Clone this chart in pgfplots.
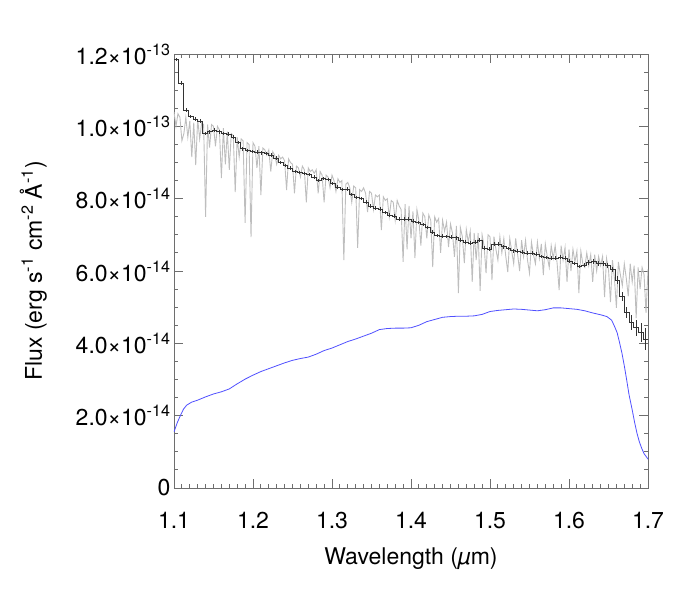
\documentclass[border=0pt]{standalone}
\usepackage{fontspec}
\setmainfont{TeX Gyre Heros}
\usepackage{pgfplots}
\pgfplotsset{compat=1.18}
\usepackage{pgfplotstable}
\definecolor{axgray}{HTML}{6E6E6E}
\definecolor{specgray}{HTML}{BEBEBE}
\definecolor{binblack}{HTML}{333333}
\definecolor{thrblue}{HTML}{5050FF}

% flux in units of 1e-14 erg/s/cm2/A
\pgfplotstableread{
x y
1.1000 10.40
1.1025 10.00
1.1050 10.35
1.1075 10.25
1.1100 9.60
1.1125 9.80
1.1150 10.25
1.1175 9.70
1.1200 10.15
1.1225 9.15
1.1250 10.10
1.1275 8.93
1.1300 10.20
1.1325 9.65
1.1350 10.10
1.1375 10.05
1.1400 7.50
1.1425 10.05
1.1450 9.41
1.1475 10.05
1.1500 10.00
1.1525 9.45
1.1550 10.00
1.1575 9.90
1.1600 8.57
1.1625 9.95
1.1650 8.95
1.1675 9.85
1.1700 8.80
1.1725 9.80
1.1750 9.75
1.1775 8.18
1.1800 9.70
1.1825 9.15
1.1850 9.65
1.1875 9.60
1.1900 7.33
1.1925 9.55
1.1950 9.50
1.1975 6.94
1.2000 9.55
1.2025 9.45
1.2050 8.85
1.2075 9.45
1.2100 8.10
1.2125 9.40
1.2150 9.35
1.2175 9.20
1.2200 9.35
1.2225 8.75
1.2250 9.30
1.2275 9.20
1.2300 8.95
1.2325 9.20
1.2350 9.10
1.2375 9.15
1.2400 9.05
1.2425 8.24
1.2450 9.10
1.2475 9.00
1.2500 8.95
1.2525 8.15
1.2550 8.90
1.2575 8.85
1.2600 8.60
1.2625 8.90
1.2650 8.80
1.2675 7.90
1.2700 8.85
1.2725 8.75
1.2750 8.80
1.2775 8.70
1.2800 8.80
1.2825 8.15
1.2850 8.75
1.2875 8.65
1.2900 7.90
1.2925 8.65
1.2950 8.60
1.2975 8.30
1.3000 8.65
1.3025 8.50
1.3050 8.20
1.3075 8.55
1.3100 8.45
1.3125 8.50
1.3150 6.30
1.3175 8.40
1.3200 8.45
1.3225 8.30
1.3250 7.90
1.3275 8.35
1.3300 8.30
1.3325 6.64
1.3350 8.25
1.3375 8.20
1.3400 8.30
1.3425 8.15
1.3450 7.63
1.3475 8.20
1.3500 8.15
1.3525 7.70
1.3550 8.10
1.3575 8.05
1.3600 8.10
1.3625 7.13
1.3650 8.05
1.3675 7.95
1.3700 8.00
1.3725 7.50
1.3750 7.95
1.3775 7.90
1.3800 7.40
1.3825 7.95
1.3850 7.80
1.3875 7.70
1.3900 6.25
1.3925 7.85
1.3950 6.60
1.3975 7.80
1.4000 6.90
1.4025 7.65
1.4050 6.36
1.4075 7.70
1.4100 7.40
1.4125 6.70
1.4150 7.60
1.4175 7.50
1.4200 6.90
1.4225 7.55
1.4250 7.40
1.4275 6.11
1.4300 7.50
1.4325 7.35
1.4350 7.45
1.4375 6.50
1.4400 7.40
1.4425 7.10
1.4450 7.35
1.4475 6.66
1.4500 7.30
1.4525 7.05
1.4550 6.39
1.4575 7.25
1.4600 5.39
1.4625 7.20
1.4650 6.95
1.4675 6.22
1.4700 7.15
1.4725 6.80
1.4750 7.10
1.4775 5.70
1.4800 7.05
1.4825 6.30
1.4850 7.05
1.4875 5.45
1.4900 7.00
1.4925 6.70
1.4950 5.94
1.4975 7.00
1.5000 6.95
1.5025 5.75
1.5050 6.95
1.5075 6.60
1.5100 6.30
1.5125 6.95
1.5150 6.50
1.5175 6.90
1.5200 6.40
1.5225 5.97
1.5250 6.90
1.5275 6.55
1.5300 6.20
1.5325 6.90
1.5350 6.45
1.5375 6.00
1.5400 6.85
1.5425 6.40
1.5450 6.85
1.5475 6.30
1.5500 5.94
1.5525 6.80
1.5550 6.45
1.5575 6.20
1.5600 6.80
1.5625 6.35
1.5650 6.75
1.5675 5.89
1.5700 6.75
1.5725 6.40
1.5750 6.10
1.5775 6.70
1.5800 6.35
1.5825 6.70
1.5850 6.20
1.5875 5.47
1.5900 6.70
1.5925 6.30
1.5950 6.65
1.5975 5.70
1.6000 6.60
1.6025 6.00
1.6050 6.60
1.6075 6.25
1.6100 6.55
1.6125 5.39
1.6150 6.55
1.6175 6.20
1.6200 6.10
1.6225 6.50
1.6250 6.15
1.6275 6.45
1.6300 5.70
1.6325 6.45
1.6350 6.00
1.6375 6.40
1.6400 6.15
1.6425 6.40
1.6450 5.28
1.6475 6.35
1.6500 6.05
1.6525 5.14
1.6550 6.30
1.6575 5.80
1.6600 4.98
1.6625 6.25
1.6650 5.90
1.6675 5.60
1.6700 6.20
1.6725 5.80
1.6750 5.30
1.6775 6.20
1.6800 5.70
1.6825 6.15
1.6850 4.70
1.6875 6.10
1.6900 5.50
1.6925 6.10
1.6950 5.90
1.6975 4.84
1.7000 6.05
}\model

% binned spectrum: bin left edge, bin centre, flux, error
\pgfplotstableread{
xl xc y e
1.100 1.103 11.85 0.05
1.106 1.109 11.20 0.05
1.112 1.115 10.45 0.05
1.118 1.121 10.27 0.05
1.124 1.127 10.20 0.05
1.130 1.133 10.15 0.05
1.136 1.139 9.80 0.05
1.142 1.145 9.85 0.05
1.148 1.151 9.90 0.05
1.154 1.157 9.85 0.05
1.160 1.163 9.80 0.05
1.166 1.169 9.78 0.05
1.172 1.175 9.70 0.05
1.178 1.181 9.55 0.05
1.184 1.187 9.38 0.05
1.190 1.193 9.33 0.05
1.196 1.199 9.30 0.05
1.202 1.205 9.29 0.05
1.208 1.211 9.27 0.05
1.214 1.217 9.25 0.05
1.220 1.223 9.20 0.05
1.226 1.229 9.12 0.05
1.232 1.235 9.00 0.05
1.238 1.241 8.92 0.05
1.244 1.247 8.85 0.05
1.250 1.253 8.75 0.05
1.256 1.259 8.72 0.05
1.262 1.265 8.70 0.05
1.268 1.271 8.67 0.05
1.274 1.277 8.60 0.05
1.280 1.283 8.50 0.05
1.286 1.289 8.56 0.05
1.292 1.295 8.53 0.05
1.298 1.301 8.42 0.05
1.304 1.307 8.32 0.05
1.310 1.313 8.25 0.05
1.316 1.319 8.27 0.05
1.322 1.325 8.12 0.05
1.328 1.331 8.03 0.05
1.334 1.337 8.00 0.05
1.340 1.343 7.90 0.05
1.346 1.349 7.80 0.05
1.352 1.355 7.74 0.05
1.358 1.361 7.71 0.05
1.364 1.367 7.62 0.05
1.370 1.373 7.55 0.05
1.376 1.379 7.52 0.05
1.382 1.385 7.44 0.05
1.388 1.391 7.44 0.05
1.394 1.397 7.44 0.05
1.400 1.403 7.38 0.05
1.406 1.409 7.34 0.05
1.412 1.415 7.29 0.05
1.418 1.421 7.20 0.05
1.424 1.427 7.07 0.05
1.430 1.433 6.98 0.05
1.436 1.439 6.97 0.05
1.442 1.445 6.95 0.05
1.448 1.451 6.94 0.05
1.454 1.457 6.92 0.05
1.460 1.463 6.86 0.05
1.466 1.469 6.80 0.05
1.472 1.475 6.77 0.05
1.478 1.481 6.80 0.05
1.484 1.487 6.86 0.05
1.490 1.493 6.63 0.05
1.496 1.499 6.60 0.05
1.502 1.505 6.74 0.05
1.508 1.511 6.75 0.05
1.514 1.517 6.67 0.05
1.520 1.523 6.62 0.05
1.526 1.529 6.56 0.05
1.532 1.535 6.55 0.05
1.538 1.541 6.53 0.05
1.544 1.547 6.50 0.05
1.550 1.553 6.50 0.05
1.556 1.559 6.47 0.05
1.562 1.565 6.40 0.05
1.568 1.571 6.37 0.05
1.574 1.577 6.36 0.05
1.580 1.583 6.36 0.05
1.586 1.589 6.39 0.05
1.592 1.595 6.36 0.05
1.598 1.601 6.27 0.05
1.604 1.607 6.21 0.05
1.610 1.613 6.12 0.05
1.616 1.619 6.16 0.05
1.622 1.625 6.24 0.07
1.628 1.631 6.26 0.07
1.634 1.637 6.22 0.07
1.640 1.643 6.20 0.07
1.646 1.649 6.16 0.07
1.652 1.655 6.05 0.07
1.658 1.661 5.75 0.10
1.664 1.667 5.30 0.13
1.670 1.673 4.85 0.16
1.676 1.679 4.57 0.20
1.682 1.685 4.43 0.22
1.688 1.691 4.30 0.26
1.694 1.697 4.12 0.30
1.700 1.697 4.12 0.00
}\binned

% instrument throughput curve, same units
\pgfplotstableread{
x y
1.100 1.55
1.104 1.80
1.108 2.00
1.112 2.18
1.116 2.29
1.122 2.37
1.130 2.43
1.140 2.52
1.150 2.60
1.160 2.66
1.170 2.74
1.180 2.88
1.190 3.01
1.200 3.12
1.210 3.22
1.220 3.30
1.230 3.38
1.240 3.46
1.250 3.53
1.260 3.58
1.270 3.62
1.280 3.70
1.290 3.80
1.300 3.87
1.310 3.96
1.320 4.05
1.330 4.12
1.340 4.20
1.350 4.28
1.360 4.38
1.370 4.41
1.380 4.42
1.390 4.42
1.400 4.43
1.410 4.50
1.420 4.60
1.430 4.66
1.440 4.72
1.450 4.74
1.460 4.75
1.470 4.75
1.480 4.76
1.490 4.80
1.500 4.88
1.510 4.91
1.520 4.93
1.530 4.95
1.540 4.94
1.550 4.92
1.560 4.90
1.570 4.93
1.580 4.98
1.590 4.98
1.600 4.96
1.610 4.94
1.620 4.90
1.630 4.84
1.640 4.79
1.648 4.74
1.654 4.64
1.658 4.45
1.661 4.29
1.664 4.02
1.667 3.73
1.670 3.38
1.673 2.99
1.676 2.58
1.680 2.16
1.683 1.82
1.686 1.52
1.689 1.28
1.692 1.10
1.695 0.95
1.700 0.80
}\throughput

\begin{document}
\begin{tikzpicture}
\begin{axis}[
  scale only axis, width=474pt, height=434pt,
  xmin=1.1, xmax=1.7, ymin=0, ymax=12,
  font=\fontsize{23}{27}\selectfont,
  axis line style={axgray, line width=0.9pt},
  every tick/.style={axgray, line width=0.9pt},
  tick align=inside, xtick pos=both, ytick pos=both,
  xticklabel pos=lower, yticklabel pos=left,
  major tick length=9pt, minor tick length=4.5pt,
  xtick={1.1,1.2,1.3,1.4,1.5,1.6,1.7},
  xticklabels={1.1,1.2,1.3,1.4,1.5,1.6,1.7},
  minor x tick num=9,
  ytick={0,2,4,6,8,10,12},
  yticklabels={0,
    2.0×10\textsuperscript{-14}, 4.0×10\textsuperscript{-14},
    6.0×10\textsuperscript{-14}, 8.0×10\textsuperscript{-14},
    1.0×10\textsuperscript{-13}, 1.2×10\textsuperscript{-13}},
  minor y tick num=3,
  xticklabel style={yshift=-21pt},
  xlabel style={yshift=-12pt},
  ylabel style={yshift=22pt},
  xlabel={Wavelength (\textit{µ}m)},
  ylabel={Flux (erg s\textsuperscript{-1} cm\textsuperscript{-2} Å\textsuperscript{-1})},
]
\addplot[specgray, line width=0.9pt, mark=none] table[x=x, y=y] {\model};
\addplot[binblack, line width=0.6pt, mark=none, const plot mark left]
  table[x=xl, y=y] {\binned};
\addplot[draw=none, mark=none,
  error bars/.cd, y dir=both, y explicit, error mark=none,
  error bar style={draw=binblack, line width=0.6pt}]
  table[x=xc, y=y, y error=e] {\binned};
\addplot[thrblue, line width=0.8pt, mark=none] table[x=x, y=y] {\throughput};
\end{axis}
\path ([xshift=-174pt,yshift=-112pt]current axis.south west)
  rectangle ([xshift=52pt,yshift=54pt]current axis.north east);
\end{tikzpicture}
\end{document}
